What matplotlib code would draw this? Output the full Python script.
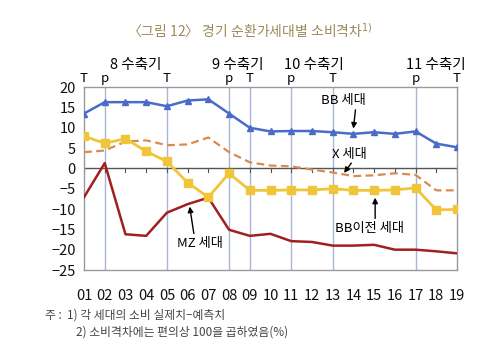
import matplotlib.pyplot as plt

plt.rcParams['font.family'] = ['Noto Sans CJK KR', 'DejaVu Sans']

years = ['01', '02', '03', '04', '05', '06', '07', '08', '09', '10',
         '11', '12', '13', '14', '15', '16', '17', '18', '19']
bb = [13.5, 16.3, 16.3, 16.3, 15.3, 16.7, 17.0, 13.5, 10.0, 9.1,
      9.2, 9.2, 8.9, 8.5, 8.9, 8.5, 9.1, 6.1, 5.2]
x_gen = [4.0, 4.4, 6.6, 6.9, 5.7, 5.9, 7.6, 4.0, 1.5, 0.7,
         0.5, -0.3, -1.0, -1.9, -1.7, -1.2, -1.6, -5.4, -5.4]
pre_bb = [7.9, 6.2, 7.3, 4.2, 1.7, -3.5, -7.1, -1.2, -5.4, -5.4,
          -5.3, -5.3, -5.0, -5.4, -5.4, -5.3, -4.8, -10.2, -10.1]
mz = [-7.1, 1.3, -16.2, -16.6, -10.9, -8.8, -7.2, -15.1, -16.6, -16.1,
      -17.9, -18.1, -19.0, -19.0, -18.8, -20.0, -20.0, -20.4, -20.9]
turns = {'01': 'T', '02': 'p', '05': 'T', '08': 'p', '09': 'T',
         '11': 'p', '13': 'T', '17': 'p', '19': 'T'}
cycles = [('8 수축기', 2.5), ('9 수축기', 7.4), ('10 수축기', 11.1), ('11 수축기', 17.0)]

# label text, label position, arrow start, arrow tip
labels = [
    ('BB 세대', (12.5, 16.6), (13.1, 14.4), (13.0, 9.8)),
    ('X 세대', (12.8, 3.3), (12.9, 1.3), (12.55, -1.1)),
    ('BB이전 세대', (13.8, -14.7), (14.05, -12.3), (14.05, -7.2)),
    ('MZ 세대', (5.6, -18.6), (5.3, -16.0), (5.1, -9.4)),
]

xs = list(range(len(years)))

fig = plt.figure(figsize=(5, 3.6), dpi=100)
ax = fig.add_axes([0.168, 0.25, 0.746, 0.508])

for yr in turns:
    i = years.index(yr)
    if 0 < i < len(years) - 1:
        ax.axvline(i, color='#a9b6d8', lw=1.0, zorder=1)

ax.axhline(0, color='#555555', lw=1.0, zorder=2)
for i in xs:
    ax.plot([i, i], [0, -0.9], color='#555555', lw=0.8, zorder=2)

ax.plot(xs, x_gen, color='#d98b52', lw=1.6, ls=(0, (3.5, 2)), zorder=3)
ax.plot(xs, mz, color='#a11f1f', lw=1.8, zorder=3)
ax.plot(xs, bb, color='#4a6cc8', lw=1.8, marker='^', ms=4.5, zorder=4)
ax.plot(xs, pre_bb, color='#f0c53a', lw=2.0, marker='s', ms=5.5, zorder=4)

ax.set_xlim(0, len(years) - 1)
ax.set_ylim(-25, 20)
ax.set_yticks(range(-25, 21, 5))
ax.set_xticks(xs)
ax.set_xticklabels(years)
ax.tick_params(axis='both', length=0, labelsize=10.5, colors='#111111')
ax.tick_params(axis='x', pad=14)
ax.tick_params(axis='y', pad=6)
for sp in ax.spines.values():
    sp.set_color('#999999')
    sp.set_linewidth(1.0)

for yr, lab in turns.items():
    ax.text(years.index(yr), 20.6, lab, ha='center', va='bottom', fontsize=9.5)
for lab, pos in cycles:
    ax.text(pos, 23.6, lab, ha='center', va='bottom', fontsize=10.5)

for lab, pos, start, tip in labels:
    ax.text(pos[0], pos[1], lab, ha='center', va='center', fontsize=9.5, zorder=6)
    ax.annotate('', xy=tip, xytext=start,
                arrowprops=dict(arrowstyle='-|>', color='black', lw=1.0,
                                mutation_scale=8, shrinkA=0, shrinkB=0), zorder=6)

fig.text(0.5, 0.915, '〈그림 12〉 경기 순환가세대별 소비격차$^{1)}$', ha='center', va='center',
         fontsize=10, color='#9c8a5a')
fig.text(0.09, 0.125, '주 :  1) 각 세대의 소비 실제치−예측치', fontsize=8.5, color='#444444',
         va='center')
fig.text(0.152, 0.078, '2) 소비격차에는 편의상 100을 곱하였음(%)', fontsize=8.5, color='#444444',
         va='center')

fig.savefig('out.png', dpi=100)
